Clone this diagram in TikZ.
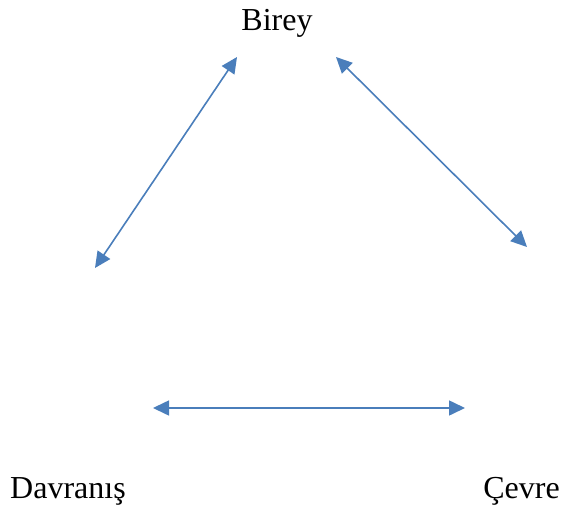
\documentclass[tikz,border=0pt]{standalone}
\usepackage{fontspec}
\setmainfont{Liberation Serif}
\usetikzlibrary{arrows.meta}
\definecolor{arrowblue}{HTML}{4A7EBB}
\begin{document}
\begin{tikzpicture}[x=1pt,y=-1pt,
  lbl/.style={font=\fontsize{32}{38}\selectfont, inner sep=0pt, anchor=base},
  biarrow/.style={draw=arrowblue, line width=1.6pt,
    {Triangle[length=16pt,width=15pt]}-{Triangle[length=16pt,width=15pt]}}]
\useasboundingbox (0,0) rectangle (562,508);
\node[lbl] (birey) at (277,31) {Birey};
\node[lbl, anchor=base west] (davranis) at (10,498) {Davranış};
\node[lbl, anchor=base east] (cevre) at (560,498) {Çevre};
\coordinate (a1) at (237,57);
\coordinate (a2) at (95,268);
\coordinate (b1) at (336,57);
\coordinate (b2) at (527,247);
\coordinate (c1) at (153,408);
\coordinate (c2) at (465,408);
\draw[biarrow] (a1) -- (a2);
\draw[biarrow] (b1) -- (b2);
\draw[biarrow] (c1) -- (c2);
\end{tikzpicture}
\end{document}
